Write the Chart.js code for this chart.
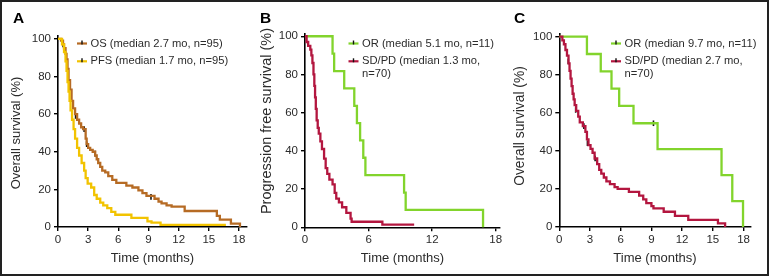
<!DOCTYPE html>
<html>
<head>
<meta charset="utf-8">
<script src="https://cdn.jsdelivr.net/npm/chart.js@4.4.0/dist/chart.umd.min.js"></script>
<style>
  body { margin: 0; background: #fff; }
  #fig { position: relative; width: 770px; height: 278px; }
  #frame { position: absolute; left: 0; top: 0; width: 769px; height: 276px; box-sizing: border-box; border: 2px solid #222; pointer-events: none; }
  canvas { position: absolute; top: 0; }
</style>
</head>
<body>
<div id="fig">
  <canvas id="panelA" width="256" height="278" style="left:0px"></canvas>
  <canvas id="panelB" width="256" height="278" style="left:256px"></canvas>
  <canvas id="panelC" width="258" height="278" style="left:512px"></canvas>
  <div id="frame"></div>
</div>
<script>
// ---- data (time in months, survival in %) ----
const yTicks = [0, 20, 40, 60, 80, 100];
const xTicksA = [0, 3, 6, 9, 12, 15, 18];
const xTicksB = [0, 6, 12, 18];
const xTicksC = [0, 3, 6, 9, 12, 15, 18];

// panel A
const osTime = [0, 0.3, 0.5, 0.6, 0.75, 0.85, 0.95, 1.05, 1.2, 1.35, 1.5, 1.7, 1.9, 2.1, 2.3, 2.5, 2.75, 2.85, 3.0, 3.2, 3.45, 3.7, 3.85, 4.0, 4.2, 4.4, 4.7, 5.0, 5.4, 5.8, 6.8, 7.4, 8.0, 8.4, 8.8, 9.6, 10.0, 10.3, 10.8, 11.3, 12.6, 15.8, 16.1, 17.2, 18.1];
const osSurv = [100, 99, 97, 95, 92, 89, 84, 78, 73, 67, 63, 60, 57, 55, 53, 52, 47, 44, 42, 41, 40, 38, 36, 34, 32, 30, 29, 27, 25, 23.5, 22, 21, 19.5, 18, 16.5, 15, 13.5, 12.6, 11.5, 10.8, 8.5, 5.9, 3.9, 1.8, 0];
const osCensTime = [0.5, 0.9, 1.75, 2.6, 2.85, 3.7, 9.25];
const osCensSurv = [97, 86, 59, 52, 44, 39, 16];
const pfsTime = [0, 0.4, 0.6, 0.75, 0.85, 0.95, 1.05, 1.15, 1.25, 1.4, 1.55, 1.7, 1.9, 2.1, 2.35, 2.6, 2.75, 2.95, 3.3, 3.6, 3.85, 4.2, 4.5, 4.9, 5.3, 5.7, 7.3, 8.9, 9.3, 10.2, 16.7];
const pfsSurv = [100, 97, 93, 88, 83, 77, 72, 67, 62, 57, 52, 47, 42, 38, 34, 30, 26, 23, 21, 17, 15, 13, 11.5, 10, 8, 6.5, 4.8, 3, 2.3, 1.1, 1.1];

// panel B (progression free survival)
const orPfsTime = [0, 2.6, 2.75, 3.7, 4.65, 4.9, 5.2, 5.5, 5.7, 9.35, 9.5, 16.8];
const orPfsSurv = [100, 90.9, 81.8, 72.7, 63.6, 54.5, 45.5, 36.4, 27.3, 18.2, 9.1, 0];
const sdPfsTime = [0, 0.15, 0.3, 0.5, 0.6, 0.7, 0.8, 0.88, 0.95, 1.02, 1.1, 1.2, 1.3, 1.45, 1.6, 1.8, 1.95, 2.1, 2.3, 2.6, 2.8, 2.95, 3.2, 3.5, 3.9, 4.3, 4.4, 7.3, 10.3];
const sdPfsSurv = [100, 97, 95, 93, 90, 86, 80, 74, 68, 62, 56, 52, 49, 45, 41, 36, 31, 28, 25, 22.5, 18, 15, 13, 10.5, 7.5, 4.5, 2.9, 1.4, 1.4];

// panel C (overall survival)
const orOsTime = [0, 2.7, 4.05, 5.1, 5.85, 7.25, 9.6, 15.85, 16.9, 17.95];
const orOsSurv = [100, 90.9, 81.8, 72.7, 63.6, 54.5, 40.9, 27.3, 13.6, 0];
const orOsCensTime = [9.2];
const orOsCensSurv = [54.5];
const sdOsTime = [0, 0.3, 0.45, 0.6, 0.75, 0.9, 1.0, 1.1, 1.2, 1.3, 1.4, 1.5, 1.65, 1.85, 2.0, 2.3, 2.55, 2.7, 2.85, 3.05, 3.25, 3.45, 3.7, 3.9, 4.1, 4.35, 4.6, 4.95, 5.4, 5.7, 6.8, 7.8, 8.2, 8.5, 9.0, 9.2, 10.2, 11.3, 12.6, 15.5, 16.2];
const sdOsSurv = [100, 98, 96, 93, 90, 86, 82, 78, 74, 70, 67, 64, 61, 58, 55, 53, 50, 46, 43, 41, 39, 36, 33, 30, 28, 26, 24, 22.5, 21, 20, 18.5, 16.5, 14.5, 12.5, 11, 9.8, 8, 5.8, 3.7, 1.9, 0];
const sdOsCensTime = [0.88, 1.6, 2.4, 2.75, 3.5];
const sdOsCensSurv = [87, 61.5, 53, 44, 36];

const legendA = ['OS (median 2.7 mo, n=95)', 'PFS (median 1.7 mo, n=95)'];
const legendB = ['OR (median 5.1 mo, n=11)', 'SD/PD (median 1.3 mo,\nn=70)'];
const legendC = ['OR (median 9.7 mo, n=11)', 'SD/PD (median 2.7 mo,\nn=70)'];

const brown = '#b66b24';
const yellow = '#f2c300';
const green = '#82d42c';
const crimson = '#b3163f';
const FONT = '"Liberation Sans", Arial, Helvetica, sans-serif';

function pts(t, s) { return t.map((v, i) => ({x: v, y: s[i]})); }

function curve(label, t, s, color) {
  return { type: 'line', label: label, data: pts(t, s), borderColor: color, backgroundColor: color,
           borderWidth: 2.3, stepped: 'before', pointRadius: 0, fill: false, clip: false };
}
function censor(t, s) {
  return { type: 'scatter', data: pts(t, s), pointStyle: 'line', rotation: 90, pointRadius: 2.8,
           borderColor: '#111', borderWidth: 1.6, showLine: false, clip: false };
}

// letter, axis titles and the in-plot legend
const panelText = {
  id: 'panelText',
  afterDraw(chart, args, o) {
    const ctx = chart.ctx, a = chart.chartArea;
    ctx.save();
    ctx.fillStyle = '#000';
    ctx.font = 'bold 15.5px ' + FONT;
    ctx.textBaseline = 'alphabetic';
    ctx.fillText(o.letter, o.letterX, 23);

    ctx.fillStyle = '#2b2b2b';
    ctx.font = '13px ' + FONT;
    ctx.textAlign = 'center';
    ctx.textBaseline = 'middle';
    ctx.fillText('Time (months)', (a.left + a.right) / 2, 258);

    ctx.save();
    ctx.font = o.yFontSize + 'px ' + FONT;
    ctx.translate(o.yTitleX, o.yTitleY);
    ctx.rotate(-Math.PI / 2);
    ctx.fillText(o.yTitle, 0, 0);
    ctx.restore();

    ctx.textAlign = 'left';
    ctx.font = '11.2px ' + FONT;
    let y = 43.5;
    o.items.forEach((it, i) => {
      ctx.strokeStyle = it.color;
      ctx.lineWidth = 2.2;
      ctx.beginPath(); ctx.moveTo(o.legX, y); ctx.lineTo(o.legX + 10, y); ctx.stroke();
      ctx.strokeStyle = '#111';
      ctx.lineWidth = 1.4;
      ctx.beginPath(); ctx.moveTo(o.legX + 5, y - 3); ctx.lineTo(o.legX + 5, y + 1); ctx.stroke();
      ctx.fillStyle = '#2b2b2b';
      it.text.split('\n').forEach((line, j) => ctx.fillText(line, o.legX + 13.5, y + j * 13));
      y += 17.8;
    });
    ctx.restore();
  }
};

function makePanel(id, datasets, xTicks, xMax, box, text) {
  new Chart(document.getElementById(id), {
    data: { datasets: datasets },
    plugins: [panelText],
    options: {
      responsive: false,
      animation: false,
      events: [],
      layout: { padding: { top: box.top, right: box.right, left: 0, bottom: 0 } },
      plugins: { legend: { display: false }, tooltip: { enabled: false }, panelText: text },
      scales: {
        x: {
          type: 'linear', min: 0, max: xMax,
          afterBuildTicks: s => { s.ticks = xTicks.map(v => ({value: v})); },
          afterFit: s => { s.height = box.xHeight; },
          grid: { display: true, drawOnChartArea: false, drawTicks: true, tickLength: 4, color: '#000', lineWidth: 1.4 },
          border: { display: true, color: '#000', width: 1.6 },
          ticks: { color: '#2b2b2b', font: { family: FONT, size: 11.5 }, padding: 2, maxRotation: 0 }
        },
        y: {
          type: 'linear', min: 0, max: 101.5,
          afterBuildTicks: s => { s.ticks = yTicks.map(v => ({value: v})); },
          afterFit: s => { s.width = box.yWidth; },
          grid: { display: true, drawOnChartArea: false, drawTicks: true, tickLength: 4, color: '#000', lineWidth: 1.4 },
          border: { display: true, color: '#000', width: 1.6 },
          ticks: { color: '#2b2b2b', font: { family: FONT, size: 11.5 }, padding: 3 }
        }
      }
    }
  });
}

makePanel('panelA', [
    curve(legendA[1], pfsTime, pfsSurv, yellow),
    curve(legendA[0], osTime, osSurv, brown),
    censor(osCensTime, osCensSurv)
  ], xTicksA, 18.8,
  { top: 36, right: 9, yWidth: 58, xHeight: 51 },
  { letter: 'A', letterX: 13, yTitle: 'Overall survival (%)', yFontSize: 13, yTitleX: 16.7, yTitleY: 133,
    legX: 77, items: [{text: legendA[0], color: brown}, {text: legendA[1], color: yellow}] });

makePanel('panelB', [
    curve(legendB[1], sdPfsTime, sdPfsSurv, crimson),
    curve(legendB[0], orPfsTime, orPfsSurv, green)
  ], xTicksB, 18.4,
  { top: 33.4, right: 12, yWidth: 49, xHeight: 50.7 },
  { letter: 'B', letterX: 4, yTitle: 'Progression free survival (%)', yFontSize: 14.5, yTitleX: 10.7, yTitleY: 121,
    legX: 92.5, items: [{text: legendB[0], color: green}, {text: legendB[1], color: crimson}] });

makePanel('panelC', [
    curve(legendC[1], sdOsTime, sdOsSurv, crimson),
    curve(legendC[0], orOsTime, orOsSurv, green),
    censor(sdOsCensTime, sdOsCensSurv),
    censor(orOsCensTime, orOsCensSurv)
  ], xTicksC, 18.7,
  { top: 33.8, right: 19.3, yWidth: 47.3, xHeight: 51 },
  { letter: 'C', letterX: 2, yTitle: 'Overall survival (%)', yFontSize: 13.8, yTitleX: 8, yTitleY: 126,
    legX: 99, items: [{text: legendC[0], color: green}, {text: legendC[1], color: crimson}] });
</script>
</body>
</html>
